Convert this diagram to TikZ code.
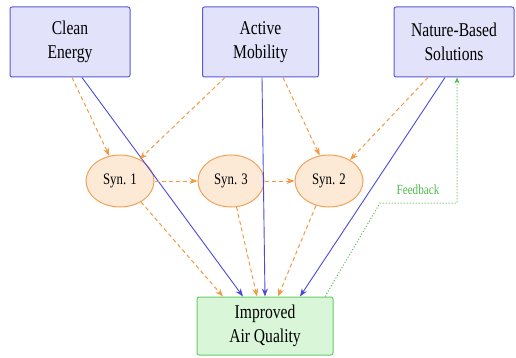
\documentclass[tikz,border=0pt]{standalone}
\usepackage{fontspec}
\setmainfont{Liberation Serif}[FakeStretch=0.8]
\usetikzlibrary{arrows.meta,shapes.geometric,calc}
\definecolor{srcfill}{HTML}{E2E2FA}
\definecolor{srcline}{HTML}{5858DE}
\definecolor{synfill}{HTML}{FCE9D6}
\definecolor{synline}{HTML}{EFA35A}
\definecolor{outfill}{HTML}{D9F6D9}
\definecolor{outline}{HTML}{66CC66}
\definecolor{direct}{HTML}{4A4ADB}
\definecolor{spill}{HTML}{F09A42}
\definecolor{loopc}{HTML}{4CBB4C}
\tikzset{
  x=1pt, y=-1pt,
  source/.style={draw=srcline, fill=srcfill, line width=1pt, rounded corners=2pt,
    minimum width=120pt, minimum height=70pt, align=center,
    font=\fontsize{19.5}{24}\selectfont},
  synergy/.style={ellipse, draw=synline, fill=synfill, line width=1pt,
    minimum width=68pt, minimum height=52pt, inner sep=0pt,
    font=\fontsize{16}{19}\selectfont},
  outcome/.style={draw=outline, fill=outfill, line width=1pt, rounded corners=2pt,
    minimum width=136pt, minimum height=58pt, align=center,
    font=\fontsize{19.5}{24}\selectfont},
  directlink/.style={draw=direct, line width=0.9pt, -{Stealth[length=8pt,width=6pt]}},
  spilllink/.style={draw=spill, line width=1pt, dash pattern=on 4pt off 3pt,
    -{Stealth[length=8pt,width=6pt]}},
  looplink/.style={draw=loopc, line width=1pt, dotted, -{Stealth[length=6pt,width=5pt]}},
}
\begin{document}
\begin{tikzpicture}
\useasboundingbox (0,0) rectangle (516,358);

% policy domains
\node[source] (ce) at (70,42) {Clean\\Energy};
\node[source, minimum width=116pt] (am) at (260.5,42) {Active\\Mobility};
\node[source] (nb) at (454,42) {Nature-Based\\Solutions};

% synergy nodes
\node[synergy] (s1) at (120,181) {Syn. 1};
\node[synergy, minimum width=66pt] (s3) at (231,181) {Syn. 3};
\node[synergy] (s2) at (329,181) {Syn. 2};

% outcome
\node[outcome] (aq) at (265,326) {Improved\\Air Quality};

% direct effects
\draw[directlink] ([xshift=12pt]ce.south) -- ([xshift=-22pt]aq.north);
\draw[directlink] ([xshift=1.5pt]am.south) -- ([xshift=0pt]aq.north);
\draw[directlink] ([xshift=-9pt]nb.south) -- ([xshift=35pt]aq.north);

% spillovers into synergies
\draw[spilllink] ([xshift=2pt]ce.south) -- (s1.113);
\draw[spilllink] ([xshift=-35.5pt]am.south) -- (s1.48);
\draw[spilllink] ([xshift=22.5pt]am.south) -- (s2.110);
\draw[spilllink] ([xshift=-26pt]nb.south) -- (s2.45);
\draw[spilllink] (s1.east) -- (s3.west);
\draw[spilllink] (s3.east) -- (s2.west);

% synergies into outcome
\draw[spilllink] (s1.-45) -- ([xshift=-42pt]aq.north);
\draw[spilllink] (s3.-78) -- ([xshift=-8pt]aq.north);
\draw[spilllink] (s2.-118) -- ([xshift=13pt]aq.north);

% feedback loop
\coordinate (fb) at (380,203);
\coordinate (fbtop) at ([xshift=3pt]nb.south);
\draw[looplink] ([xshift=60pt]aq.north) -- (fb) -- (fb -| fbtop) -- (fbtop);
\node[text=loopc, font=\fontsize{14}{16}\selectfont] (fbl) at (418,190) {Feedback};
\end{tikzpicture}
\end{document}
